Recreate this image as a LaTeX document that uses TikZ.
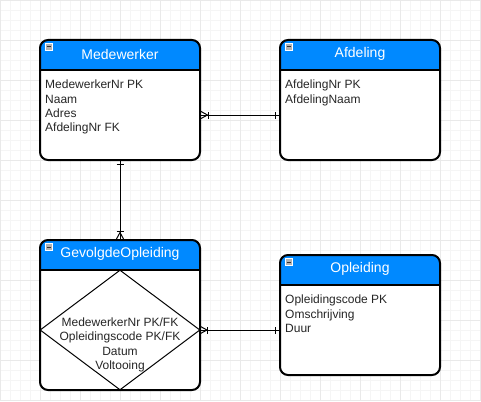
\documentclass[tikz,border=0pt]{standalone}
\usepackage{fontspec}
\setmainfont{Liberation Sans}
\usepackage{tikz}
\usetikzlibrary{shapes.geometric,decorations.markings}
\definecolor{hdrblue}{RGB}{0,137,255}
\definecolor{gridlight}{RGB}{245,245,245}
\definecolor{griddark}{RGB}{233,233,233}

\begin{document}
\begin{tikzpicture}[x=1pt,y=-1pt,
    entity/.style={draw,fill=white,line width=2pt,rounded corners=8pt,inner sep=0pt,minimum width=160pt,
        path picture={\fill[hdrblue,sharp corners] (path picture bounding box.north west) rectangle ([yshift=-30pt]path picture bounding box.north east);
                      \draw[line width=2pt,sharp corners] ([yshift=-30pt]path picture bounding box.north west) -- ([yshift=-30pt]path picture bounding box.north east);}},
    title/.style={text=white,font=\fontsize{14pt}{16pt}\selectfont,inner sep=0pt},
    attrs/.style={anchor=north west,align=left,inner sep=0pt,font=\fontsize{12pt}{14.3pt}\selectfont,text=black!85},
    icon/.style={draw=white,fill=black!30,inner sep=0pt,minimum size=7pt,line width=0.5pt,
        path picture={\draw[black!80,line width=1pt] ([xshift=1.5pt]path picture bounding box.west) -- ([xshift=-1.5pt]path picture bounding box.east);}},
    link/.style={draw,line width=1pt},
    onetail/.style={postaction={decorate,decoration={markings,mark=at position 3.5pt with {\draw[line width=1pt] (0,-3.5pt) -- (0,3.5pt);}}}},
    onehead/.style={postaction={decorate,decoration={markings,mark=at position -3.5pt with {\draw[line width=1pt] (0,-3.5pt) -- (0,3.5pt);}}}},
    manytail/.style={postaction={decorate,decoration={markings,mark=at position 6.5pt with {\draw[line width=1pt] (-6.5pt,3.5pt) -- (0,0) -- (-6.5pt,-3.5pt); \draw[line width=1pt] (0.7pt,-3.5pt) -- (0.7pt,3.5pt);}}}},
    manyhead/.style={postaction={decorate,decoration={markings,mark=at position -6.5pt with {\draw[line width=1pt] (6.5pt,3.5pt) -- (0,0) -- (6.5pt,-3.5pt); \draw[line width=1pt] (-0.7pt,-3.5pt) -- (-0.7pt,3.5pt);}}}}]
    \useasboundingbox (0,0) rectangle (481,401);
    \fill[white] (0,0) rectangle (481,401);
    % grid
    \foreach \g in {0,10,...,480} \draw[gridlight,line width=0.75pt] (\g,0) -- (\g,401);
    \foreach \g in {0,10,...,400} \draw[gridlight,line width=0.75pt] (0,\g) -- (481,\g);
    \foreach \g in {0,40,...,480} \draw[griddark,line width=0.75pt] (\g,0) -- (\g,401);
    \foreach \g in {0,40,...,400} \draw[griddark,line width=0.75pt] (0,\g) -- (481,\g);

    % entities
    \node[entity,minimum height=120pt] (medewerker) at (120,100) {};
    \node[entity,minimum height=120pt] (afdeling) at (360,100) {};
    \node[entity,minimum height=150pt] (gevolgde) at (120,315) {};
    \node[entity,minimum height=120pt] (opleiding) at (360,315) {};

    \node[title] (medewerker-title) at ([yshift=-15pt]medewerker.north) {Medewerker};
    \node[title] (afdeling-title) at ([yshift=-15pt]afdeling.north) {Afdeling};
    \node[title] (gevolgde-title) at ([yshift=-15pt]gevolgde.north) {GevolgdeOpleiding};
    \node[title] (opleiding-title) at ([yshift=-15pt]opleiding.north) {Opleiding};

    \node[icon] (medewerker-icon) at ([shift={(9.5pt,-8pt)}]medewerker.north west) {};
    \node[icon] (afdeling-icon) at ([shift={(9.5pt,-8pt)}]afdeling.north west) {};
    \node[icon] (gevolgde-icon) at ([shift={(9.5pt,-8pt)}]gevolgde.north west) {};
    \node[icon] (opleiding-icon) at ([shift={(9.5pt,-8pt)}]opleiding.north west) {};

    \node[attrs] (medewerker-attrs) at ([shift={(6pt,-41pt)}]medewerker.north west) {MedewerkerNr PK\\Naam\\Adres\\AfdelingNr FK};
    \node[attrs] (afdeling-attrs) at ([shift={(6pt,-41pt)}]afdeling.north west) {AfdelingNr PK\\AfdelingNaam};
    \node[attrs] (opleiding-attrs) at ([shift={(6pt,-41pt)}]opleiding.north west) {Opleidingscode PK\\Omschrijving\\Duur};

    % relation inside GevolgdeOpleiding
    \node[diamond,draw,line width=1pt,inner sep=0pt,minimum width=160pt,minimum height=120pt] (gevolgde-diamond) at (120,330) {};
    \node[attrs,anchor=center,align=center] (gevolgde-attrs) at (120,345) {MedewerkerNr PK/FK\\Opleidingscode PK/FK\\Datum\\Voltooing};

    % connectors
    \draw[link,manytail,onehead] ([yshift=-15pt]medewerker.east) -- ([yshift=-15pt]afdeling.west);
    \draw[link,onetail,manyhead] (medewerker.south) -- (gevolgde.north);
    \draw[link,manytail,onehead] (gevolgde-diamond.east) -- (gevolgde-diamond.east -| opleiding.west);
\end{tikzpicture}
\end{document}
